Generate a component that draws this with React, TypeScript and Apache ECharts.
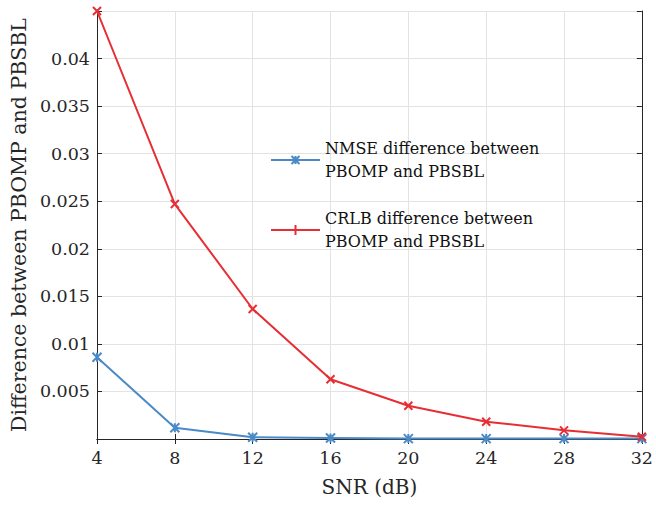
import React, { useEffect, useRef } from "react";
import * as echarts from "echarts";

const snr = [4, 8, 12, 16, 20, 24, 28, 32];
const nmseDiff = [0.00859, 0.00119, 0.00018, 0.0001, 0.00004, 0.00004, 0.00004, 0.00004];
const crlbDiff = [0.045, 0.0247, 0.01367, 0.00628, 0.0035, 0.00182, 0.00091, 0.00024];
const xTicks = { min: 4, max: 32, interval: 4 };
const yTicks = { min: 0, max: 0.045, interval: 0.005 };
const nmseName = "NMSE difference between\nPBOMP and PBSBL";
const crlbName = "CRLB difference between\nPBOMP and PBSBL";
const xTitle = "SNR (dB)";
const yTitle = "Difference between PBOMP and PBSBL";

const FONT = "DejaVu Serif";
const TEXT = "#262626";
const BLUE = "#4a8ac6";
const RED = "#e62e34";

export default function App() {
  const ref = useRef<HTMLDivElement>(null);
  useEffect(() => {
    if (!ref.current) return;
    const chart = echarts.init(ref.current, undefined, { renderer: "svg" });
    const axisLine = { show: true, lineStyle: { color: TEXT, width: 1 } };
    const tick = { show: true, inside: true, length: 5, lineStyle: { color: TEXT } };
    chart.setOption({
      animation: false,
      backgroundColor: "#ffffff",
      textStyle: { fontFamily: FONT },
      grid: { left: 96, right: 13, top: 11, bottom: 66, containLabel: false },
      legend: {
        orient: "vertical",
        left: 270,
        top: 137,
        padding: 0,
        itemWidth: 49,
        itemHeight: 10,
        itemGap: 24,
        textStyle: { fontFamily: FONT, fontSize: 16, color: "#111", lineHeight: 23 },
        data: [
          { name: nmseName },
          { name: crlbName, icon: "path://M0,5L49,5M24.5,0L24.5,10" },
        ],
      },
      xAxis: [
        {
          type: "value",
          min: xTicks.min,
          max: xTicks.max,
          interval: xTicks.interval,
          position: "bottom",
          name: xTitle,
          nameLocation: "middle",
          nameGap: 38,
          nameTextStyle: { fontFamily: FONT, fontSize: 20, color: TEXT },
          axisLine,
          axisTick: tick,
          axisLabel: { fontFamily: FONT, fontSize: 17.5, color: TEXT, margin: 10 },
          splitLine: { show: true, lineStyle: { color: "#e3e3e3", width: 1 } },
        },
        {
          type: "value",
          min: xTicks.min,
          max: xTicks.max,
          interval: xTicks.interval,
          position: "top",
          axisLine,
          axisTick: tick,
          axisLabel: { show: false },
          splitLine: { show: false },
        },
      ],
      yAxis: [
        {
          type: "value",
          min: yTicks.min,
          max: yTicks.max,
          interval: yTicks.interval,
          position: "left",
          name: yTitle,
          nameLocation: "middle",
          nameGap: 55,
          nameTextStyle: { fontFamily: FONT, fontSize: 20.5, color: TEXT },
          axisLine,
          axisTick: tick,
          axisLabel: {
            fontFamily: FONT,
            fontSize: 17.5,
            color: TEXT,
            margin: 7,
            formatter: (v: number) => {
              const r = +v.toFixed(4);
              if (r <= 0 || r >= yTicks.max - 1e-9) return "";
              return String(r);
            },
          },
          splitLine: { show: true, lineStyle: { color: "#e3e3e3", width: 1 } },
        },
        {
          type: "value",
          min: yTicks.min,
          max: yTicks.max,
          interval: yTicks.interval,
          position: "right",
          axisLine,
          axisTick: tick,
          axisLabel: { show: false },
          splitLine: { show: false },
        },
      ],
      series: [
        {
          name: nmseName,
          type: "line",
          data: snr.map((x, i) => [x, nmseDiff[i]]),
          symbol: "path://M0,0L10,10M10,0L0,10M5,0L5,10",
          symbolSize: 9,
          lineStyle: { color: BLUE, width: 2 },
          itemStyle: { color: BLUE, borderColor: BLUE, borderWidth: 2 },
          clip: false,
          z: 3,
        },
        {
          name: crlbName,
          type: "line",
          data: snr.map((x, i) => [x, crlbDiff[i]]),
          symbol: "path://M0,0L10,10M10,0L0,10",
          symbolSize: 8,
          lineStyle: { color: RED, width: 2 },
          itemStyle: { color: RED, borderColor: RED, borderWidth: 2 },
          clip: false,
          z: 4,
        },
      ],
    });
    return () => chart.dispose();
  }, []);
  return (
    <div
      ref={ref}
      style={{ position: "fixed", left: 0, top: 0, width: 656, height: 505, background: "#fff" }}
    />
  );
}
